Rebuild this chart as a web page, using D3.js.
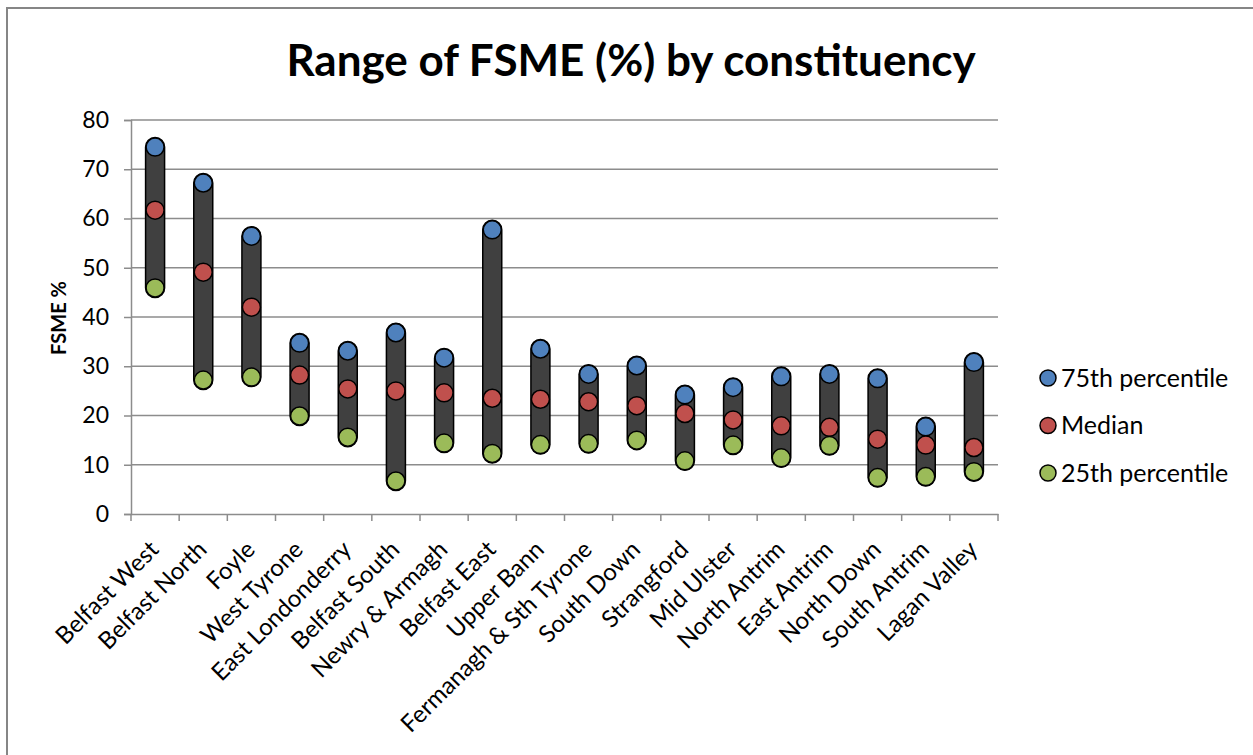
<!DOCTYPE html>
<html>
  <head>
    <meta charset="utf-8" />
    <title>Range of FSME</title>
    <script src="https://d3js.org/d3.v7.min.js"></script>
    <style>
      body { margin: 0; background: #fff; }
      text { font-family: Lato, "Open Sans", sans-serif; fill: #000; }
    </style>
  </head>
  <body>
    <svg id="chart" width="1253" height="755"></svg>
    <script>
        var constituencies = ["Belfast West", "Belfast North", "Foyle", "West Tyrone", "East Londonderry",
            "Belfast South", "Newry & Armagh", "Belfast East", "Upper Bann", "Fermanagh & Sth Tyrone",
            "South Down", "Strangford", "Mid Ulster", "North Antrim", "East Antrim", "North Down",
            "South Antrim", "Lagan Valley"];
        var p75 = [74.5, 67.2, 56.4, 34.7, 33.1, 36.8, 31.7, 57.7, 33.5, 28.4, 30.1, 24.2, 25.7, 27.9, 28.4, 27.5, 17.7, 30.8];
        var median = [61.7, 49.1, 42.0, 28.2, 25.4, 25.0, 24.6, 23.5, 23.3, 22.8, 22.0, 20.4, 19.1, 17.9, 17.6, 15.2, 14.0, 13.5];
        var p25 = [45.9, 27.2, 27.8, 19.9, 15.6, 6.7, 14.4, 12.3, 14.1, 14.3, 15.0, 10.8, 14.0, 11.4, 13.9, 7.4, 7.6, 8.6];
        var yTicks = [0, 10, 20, 30, 40, 50, 60, 70, 80];

        var series = [
            { name: "75th percentile", values: p75, color: "#4f81bd" },
            { name: "Median", values: median, color: "#c0504d" },
            { name: "25th percentile", values: p25, color: "#9bbb59" }
        ];

        var svg = d3.select("#chart");
        var plotLeft = 131, plotRight = 998, plotTop = 120, plotBottom = 514;

        // chart border
        svg.append("rect")
            .attr("x", 7).attr("y", 8)
            .attr("width", 1300).attr("height", 800)
            .attr("fill", "none").attr("stroke", "#868686").attr("stroke-width", 2);

        var x = d3.scaleBand().domain(constituencies).range([plotLeft, plotRight]);
        var y = d3.scaleLinear().domain([0, 80]).range([plotBottom, plotTop]);

        // gridlines
        svg.append("g").selectAll("line")
            .data(yTicks.slice(1))
            .enter().append("line")
            .attr("x1", plotLeft).attr("x2", plotRight)
            .attr("y1", function(d) { return y(d); })
            .attr("y2", function(d) { return y(d); })
            .attr("stroke", "#8c8c8c").attr("stroke-width", 1.5);

        // y axis
        var yAxis = svg.append("g")
            .attr("transform", "translate(" + plotLeft + ",0)")
            .call(d3.axisLeft(y).tickValues(yTicks).tickSize(7).tickPadding(15));
        yAxis.select(".domain").attr("stroke", "#8c8c8c").attr("stroke-width", 1.5);
        yAxis.selectAll(".tick line").attr("stroke", "#8c8c8c").attr("stroke-width", 1.5);
        yAxis.selectAll("text").attr("fill", "#000").style("font-size", "23px").style("font-family", "Lato");

        // x axis: ticks at category boundaries
        var xAxis = svg.append("g")
            .attr("transform", "translate(0," + plotBottom + ")")
            .call(d3.axisBottom(x).tickSize(0).tickFormat(""));
        xAxis.select(".domain").attr("stroke", "#8c8c8c").attr("stroke-width", 1.5);
        var bounds = constituencies.map(function(c) { return x(c); }).concat([plotRight]);
        svg.append("g").selectAll("line")
            .data(bounds)
            .enter().append("line")
            .attr("x1", function(d) { return d; }).attr("x2", function(d) { return d; })
            .attr("y1", plotBottom).attr("y2", plotBottom + 7)
            .attr("stroke", "#8c8c8c").attr("stroke-width", 1.5);

        svg.append("g").selectAll("text")
            .data(constituencies)
            .enter().append("text")
            .attr("transform", function(d) {
                return "translate(" + (x(d) + x.bandwidth() / 2 + 5) + "," + (plotBottom + 37) + ") rotate(-45)";
            })
            .attr("text-anchor", "end")
            .style("font-size", "24px")
            .text(function(d) { return d; });

        // high-low bars
        var barW = 19;
        svg.append("g").selectAll("rect")
            .data(constituencies)
            .enter().append("rect")
            .attr("x", function(d) { return x(d) + x.bandwidth() / 2 - barW / 2; })
            .attr("y", function(d, i) { return y(p75[i]) - barW / 2; })
            .attr("width", barW)
            .attr("height", function(d, i) { return y(p25[i]) - y(p75[i]) + barW; })
            .attr("rx", barW / 2)
            .attr("fill", "#404040").attr("stroke", "#000").attr("stroke-width", 1.5);

        // markers
        series.forEach(function(s) {
            svg.append("g").selectAll("circle")
                .data(s.values)
                .enter().append("circle")
                .attr("cx", function(d, i) { return x(constituencies[i]) + x.bandwidth() / 2; })
                .attr("cy", function(d) { return y(d); })
                .attr("r", 9)
                .attr("fill", s.color).attr("stroke", "#000").attr("stroke-width", 1.5);
        });

        // title
        svg.append("text")
            .attr("x", 631).attr("y", 76)
            .attr("text-anchor", "middle")
            .style("font-size", "44px").style("font-weight", "bold")
            .text("Range of FSME (%) by constituency");

        // y axis title
        svg.append("text")
            .attr("transform", "translate(66,318) rotate(-90)")
            .attr("text-anchor", "middle")
            .style("font-size", "20px").style("font-weight", "bold")
            .text("FSME %");

        // legend
        var legend = svg.append("g").selectAll("g")
            .data(series)
            .enter().append("g")
            .attr("transform", function(d, i) { return "translate(1048," + (378 + i * 47.5) + ")"; });
        legend.append("circle")
            .attr("r", 8)
            .attr("fill", function(d) { return d.color; })
            .attr("stroke", "#000").attr("stroke-width", 1.5);
        legend.append("text")
            .attr("x", 13).attr("dy", "0.35em")
            .style("font-size", "25px")
            .text(function(d) { return d.name; });
    </script>
  </body>
</html>
